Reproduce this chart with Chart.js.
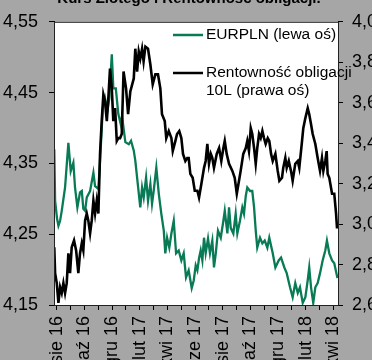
<!DOCTYPE html>
<html>
<head>
<meta charset="utf-8">
<script src="https://cdn.jsdelivr.net/npm/chart.js@4"></script>
<style>
  html, body { margin: 0; padding: 0; background: #a6a6a6; overflow: hidden; }
  canvas { display: block; }
</style>
</head>
<body>
<canvas id="chart" width="372" height="360"></canvas>
<script>
// Tick labels (every 2nd month, starting Aug 2016)
const monthLabels = ['sie 16', 'paź 16', 'gru 16', 'lut 17', 'kwi 17', 'cze 17', 'sie 17', 'paź 17', 'gru 17', 'lut 18', 'kwi 18'];

// EURPLN (left axis) - x in months since Aug 2016
const eurMonths = [-0.18,-0.12,0.02,0.12,0.24,0.36,0.60,0.84,1.01,1.20,1.32,1.49,1.68,1.81,1.92,2.05,2.17,2.41,2.65,2.77,3.01,3.13,3.33,3.49,3.66,3.80,3.98,4.09,4.27,4.45,4.63,4.72,4.96,5.21,5.37,5.57,5.68,5.81,6.04,6.17,6.29,6.46,6.60,6.77,6.89,7.01,7.20,7.38,7.56,7.74,7.85,7.98,8.14,8.29,8.46,8.63,8.82,9.01,9.18,9.35,9.54,9.76,9.91,10.05,10.17,10.29,10.41,10.53,10.65,10.77,10.94,11.08,11.25,11.37,11.50,11.66,11.86,12.05,12.15,12.34,12.46,12.58,12.77,12.94,13.06,13.25,13.42,13.54,13.67,13.78,13.98,14.14,14.27,14.39,14.50,14.70,14.87,15.04,15.23,15.37,15.62,15.81,16.05,16.22,16.46,16.63,16.87,17.06,17.25,17.43,17.59,17.79,17.98,18.15,18.26,18.39,18.55,18.70,18.87,19.04,19.23,19.42,19.54,19.71,19.91,20.07,20.30];
const eurValues = [4.370,4.297,4.272,4.262,4.269,4.283,4.316,4.379,4.339,4.351,4.316,4.288,4.309,4.311,4.286,4.283,4.302,4.311,4.337,4.318,4.314,4.354,4.428,4.442,4.424,4.442,4.504,4.456,4.456,4.420,4.405,4.417,4.380,4.377,4.382,4.368,4.354,4.330,4.288,4.316,4.302,4.330,4.297,4.321,4.293,4.311,4.344,4.307,4.279,4.255,4.223,4.245,4.231,4.251,4.269,4.223,4.227,4.213,4.223,4.189,4.199,4.174,4.185,4.206,4.199,4.216,4.227,4.213,4.245,4.223,4.244,4.223,4.241,4.203,4.223,4.255,4.245,4.269,4.283,4.251,4.288,4.259,4.251,4.279,4.251,4.269,4.288,4.279,4.304,4.316,4.311,4.311,4.288,4.255,4.231,4.245,4.237,4.241,4.231,4.245,4.223,4.203,4.213,4.217,4.203,4.195,4.175,4.161,4.181,4.167,4.175,4.153,4.161,4.185,4.203,4.175,4.153,4.175,4.181,4.195,4.213,4.227,4.241,4.223,4.213,4.209,4.188];

// 10Y bond yield (right axis)
const bondMonths = [-0.18,-0.12,0.00,0.12,0.24,0.36,0.48,0.60,0.72,0.84,0.96,1.08,1.25,1.40,1.56,1.68,1.81,1.92,2.05,2.17,2.28,2.41,2.53,2.65,2.77,2.89,3.01,3.13,3.25,3.37,3.49,3.62,3.73,3.85,3.98,4.09,4.22,4.34,4.45,4.58,4.70,4.83,5.01,5.16,5.32,5.57,5.68,5.81,5.93,6.04,6.17,6.28,6.41,6.60,6.77,6.94,7.13,7.32,7.49,7.61,7.81,7.92,8.10,8.29,8.39,8.58,8.70,8.86,9.01,9.13,9.30,9.44,9.54,9.66,9.83,9.98,10.17,10.29,10.46,10.65,10.77,10.89,11.01,11.14,11.25,11.37,11.57,11.74,11.90,12.05,12.15,12.29,12.46,12.70,12.87,13.02,13.18,13.30,13.49,13.67,13.78,13.90,14.03,14.14,14.27,14.39,14.50,14.63,14.75,14.87,14.99,15.11,15.26,15.37,15.50,15.62,15.81,15.98,16.10,16.29,16.38,16.53,16.63,16.78,16.94,17.06,17.25,17.43,17.54,17.74,17.83,17.98,18.15,18.26,18.39,18.51,18.70,18.87,19.04,19.18,19.28,19.42,19.52,19.59,19.71,19.91,20.07,20.20,20.27];
const bondValues = [2.885,2.757,2.708,2.610,2.688,2.659,2.708,2.659,2.708,2.855,2.757,2.885,2.919,2.870,2.757,2.855,2.905,2.870,3.018,3.052,3.018,2.954,3.018,3.116,3.052,3.116,3.052,3.347,3.509,3.641,3.607,3.509,3.622,3.769,3.671,3.509,3.573,3.411,3.425,3.425,3.445,3.754,3.671,3.543,3.656,3.720,3.867,3.754,3.853,3.818,3.867,3.804,3.877,3.867,3.789,3.691,3.740,3.740,3.671,3.543,3.509,3.425,3.460,3.425,3.361,3.411,3.445,3.460,3.425,3.347,3.312,3.327,3.327,3.248,3.229,3.165,3.165,3.131,3.199,3.278,3.312,3.396,3.298,3.347,3.327,3.278,3.347,3.376,3.312,3.376,3.411,3.347,3.298,3.263,3.229,3.150,3.214,3.263,3.347,3.376,3.411,3.361,3.474,3.445,3.376,3.298,3.376,3.445,3.425,3.460,3.425,3.396,3.425,3.411,3.347,3.312,3.347,3.263,3.214,3.229,3.278,3.327,3.278,3.312,3.263,3.214,3.298,3.312,3.278,3.411,3.474,3.524,3.573,3.543,3.494,3.445,3.396,3.327,3.263,3.327,3.263,3.312,3.361,3.248,3.229,3.150,3.150,3.052,2.978];

const FONT = "'Liberation Sans Narrow', 'Arial Narrow', 'Liberation Sans', Arial, sans-serif";
const GREEN = '#087a56';

const toPoints = (xs, ys) => xs.map((x, i) => ({ x: x, y: ys[i] }));
const comma = (v, d) => v.toFixed(d).replace('.', ',');

// Grey page, white plot area, frame, title and legend
const framePlugin = {
    id: 'frame',
    beforeDraw(chart) {
        const { ctx, chartArea: a } = chart;
        ctx.save();
        ctx.fillStyle = '#a6a6a6';
        ctx.fillRect(0, 0, chart.width, chart.height);
        ctx.fillStyle = '#ffffff';
        ctx.fillRect(a.left, a.top, a.right - a.left, a.bottom - a.top);
        ctx.restore();
    },
    afterDraw(chart) {
        const { ctx, chartArea: a } = chart;
        ctx.save();
        ctx.strokeStyle = '#222';
        ctx.lineWidth = 1;
        ctx.strokeRect(a.left + 0.5, a.top + 0.5, a.right - a.left, a.bottom - a.top);

        // cut-off title
        ctx.fillStyle = '#000';
        ctx.font = 'bold 15px ' + FONT;
        ctx.textAlign = 'center';
        ctx.textBaseline = 'alphabetic';
        ctx.fillText('Kurs Złotego i Rentowność obligacji.', 189, 3);

        // legend
        ctx.font = '15.5px ' + FONT;
        ctx.textAlign = 'left';
        ctx.textBaseline = 'middle';
        const items = [
            { color: GREEN, lines: ['EURPLN (lewa oś)'], y: 35 },
            { color: '#000', lines: ['Rentowność obligacji', '10L (prawa oś)'], y: 73 }
        ];
        items.forEach(it => {
            ctx.strokeStyle = it.color;
            ctx.lineWidth = 2.5;
            ctx.beginPath();
            ctx.moveTo(173, it.y);
            ctx.lineTo(203, it.y);
            ctx.stroke();
            ctx.fillStyle = '#000';
            it.lines.forEach((t, j) => ctx.fillText(t, 206, it.y + j * 17.5));
        });
        ctx.restore();
    }
};

new Chart(document.getElementById('chart'), {
    type: 'line',
    data: {
        datasets: [
            {
                label: 'Rentowność obligacji 10L (prawa oś)',
                data: toPoints(bondMonths, bondValues),
                borderColor: '#000',
                borderWidth: 2.6,
                pointRadius: 0,
                tension: 0,
                yAxisID: 'y1',
                order: 0
            },
            {
                label: 'EURPLN (lewa oś)',
                data: toPoints(eurMonths, eurValues),
                borderColor: GREEN,
                borderWidth: 2.3,
                pointRadius: 0,
                tension: 0,
                yAxisID: 'y',
                order: 1
            }
        ]
    },
    options: {
        responsive: false,
        animation: false,
        devicePixelRatio: 1,
        layout: { padding: { top: 20, left: 0, right: 0, bottom: 0 } },
        plugins: { legend: { display: false }, tooltip: { enabled: false }, title: { display: false } },
        scales: {
            x: {
                type: 'linear',
                min: -0.2,
                max: 20.34,
                afterFit: s => { s.height = 55; },
                afterBuildTicks: s => { s.ticks = monthLabels.flatMap((l, i) => i < 10 ? [{ value: i * 2 }, { value: i * 2 + 1 }] : [{ value: i * 2 }]); },
                grid: { drawOnChartArea: false, drawTicks: true, tickLength: 5, tickColor: '#000' },
                border: { display: true, color: '#000' },
                ticks: {
                    autoSkip: false,
                    minRotation: 90,
                    maxRotation: 90,
                    padding: 6,
                    color: '#000',
                    font: { family: FONT, size: 18 },
                    callback: v => (v % 2 === 0 ? monthLabels[v / 2] : '')
                }
            },
            y: {
                position: 'left',
                min: 4.15,
                max: 4.55,
                afterFit: s => { s.width = 54; },
                afterBuildTicks: s => { s.ticks = [4.15, 4.25, 4.35, 4.45, 4.55].map(v => ({ value: v })); },
                grid: { drawOnChartArea: false, tickLength: 5, tickColor: '#000' },
                border: { display: true, color: '#000' },
                ticks: { padding: 11, color: '#000', font: { family: FONT, size: 18 }, callback: v => comma(v, 2) }
            },
            y1: {
                position: 'right',
                min: 2.6,
                max: 4.0,
                afterFit: s => { s.width = 34; },
                afterBuildTicks: s => { s.ticks = [2.6, 2.8, 3.0, 3.2, 3.4, 3.6, 3.8, 4.0].map(v => ({ value: v })); },
                grid: { drawOnChartArea: false, tickLength: 5, tickColor: '#000' },
                border: { display: true, color: '#000' },
                ticks: { padding: 9, color: '#000', font: { family: FONT, size: 18 }, callback: v => comma(v, 1) }
            }
        }
    },
    plugins: [framePlugin]
});
</script>
</body>
</html>
